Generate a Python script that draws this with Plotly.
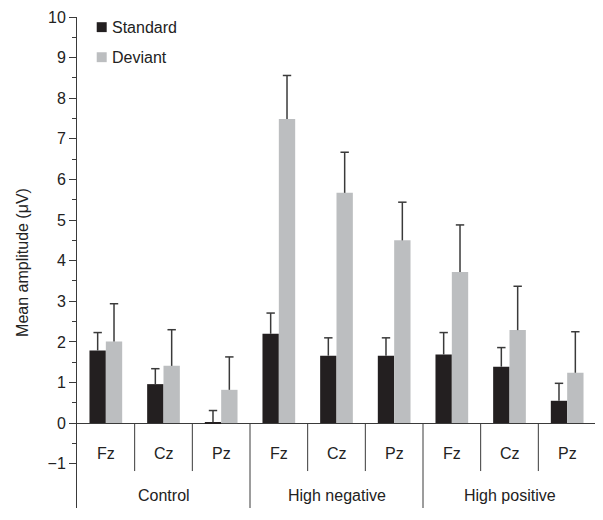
import plotly.graph_objects as go

groups = ["Control", "High negative", "High positive"]
sites = ["Fz", "Cz", "Pz"]
series_names = ["Standard", "Deviant"]

standard_mean = [1.79, 0.96, 0.02, 2.20, 1.66, 1.66, 1.69, 1.39, 0.55]
standard_upper = [2.23, 1.34, 0.31, 2.71, 2.10, 2.10, 2.23, 1.86, 0.98]
deviant_mean = [2.01, 1.41, 0.82, 7.49, 5.67, 4.50, 3.72, 2.29, 1.24]
deviant_upper = [2.94, 2.30, 1.63, 8.56, 6.67, 5.44, 4.88, 3.37, 2.25]

y_ticks = [-1, 0, 1, 2, 3, 4, 5, 6, 7, 8, 9, 10]

n_sites = len(sites)
n_cat = len(groups) * n_sites
xpos = list(range(n_cat))

FONT = "Liberation Sans, Arial, Helvetica, sans-serif"
AXC = "#3a3a3a"
ERRC = "#3a3a3a"
TXT = "#222222"
COLORS = ["#231f20", "#bcbec0"]

fig = go.Figure()
for k, (name, mean, col) in enumerate(zip(series_names, [standard_mean, deviant_mean], COLORS)):
    fig.add_trace(go.Bar(
        x=xpos, y=mean, name=name, showlegend=False, offsetgroup=str(k),
        marker=dict(color=col, line=dict(width=0)),
    ))
for k, (name, mean, upper) in enumerate(zip(series_names, [standard_mean, deviant_mean],
                                            [standard_upper, deviant_upper])):
    # one-sided (upper) error bar: stem from mean to upper, cap only at the top
    fig.add_trace(go.Scatter(
        x=xpos, y=upper, mode="markers", showlegend=False, offsetgroup=str(k),
        marker=dict(symbol="line-ew", size=6, line=dict(color=ERRC, width=1.5)),
        error_y=dict(type="data", symmetric=False, array=[0] * n_cat,
                     arrayminus=[u - m for u, m in zip(upper, mean)],
                     color=ERRC, thickness=1.5, width=0),
        hoverinfo="skip",
    ))

y_bottom = -2.09
shapes = []
annotations = []
for i in range(n_cat):
    annotations.append(dict(x=i, y=-0.74, xref="x", yref="y", text=sites[i % n_sites],
                            showarrow=False, font=dict(size=16, color=TXT, family=FONT)))
    b = i + 0.5
    if (i + 1) % n_sites == 0:
        shapes.append(dict(type="line", xref="x", yref="y", x0=b, x1=b, y0=0, y1=y_bottom,
                           line=dict(color=AXC, width=1)))
    else:
        shapes.append(dict(type="line", xref="x", yref="y", x0=b, x1=b, y0=0, y1=-1.18,
                           line=dict(color=AXC, width=1)))
for g, name in enumerate(groups):
    annotations.append(dict(x=g * n_sites + (n_sites - 1) / 2, y=-1.78, xref="x", yref="y",
                            text=name, showarrow=False,
                            font=dict(size=16, color=TXT, family=FONT)))

# manual legend (swatch + label)
legend_rows = [9.75, 9.01]
for name, col, yc in zip(series_names, COLORS, legend_rows):
    shapes.append(dict(type="rect", xref="x", yref="y", x0=-0.158, x1=0.015,
                       y0=yc - 0.122, y1=yc + 0.122, fillcolor=col, line=dict(width=0)))
    annotations.append(dict(x=0.07, y=yc, xref="x", yref="y", text=name, xanchor="left",
                            showarrow=False, font=dict(size=16, color=TXT, family=FONT)))

minor_vals = [v + 0.5 for v in y_ticks[:-1]]

# page body has an 8px margin: shrink the figure so the plot lands where intended
fig.update_layout(
    width=595, height=512,
    margin=dict(l=69, r=7, t=9, b=12, autoexpand=False),
    paper_bgcolor="white", plot_bgcolor="white",
    barmode="group", bargap=0.433, bargroupgap=0,
    scattermode="group", scattergap=0.433,
    font=dict(family=FONT, size=16, color=TXT),
    showlegend=False,
    xaxis=dict(range=[-0.5, n_cat - 0.5], visible=False, fixedrange=True),
    yaxis=dict(range=[y_bottom, 10], tickvals=y_ticks,
               ticktext=[str(v).replace("-", "\u2212") for v in y_ticks],
               ticks="outside", ticklen=7, tickwidth=1, tickcolor=AXC,
               ticklabeloverflow="allow",
               showline=True, linecolor=AXC, linewidth=1, showgrid=False,
               zeroline=True, zerolinecolor=AXC, zerolinewidth=1,
               tickfont=dict(size=16, family=FONT, color=TXT),
               minor=dict(tickvals=minor_vals, ticks="outside", ticklen=4, tickcolor=AXC, showgrid=False),
               title=dict(text="Mean amplitude (\u03bcV)", font=dict(size=16, family=FONT, color=TXT),
                          standoff=14)),
    shapes=shapes,
    annotations=annotations,
)

fig.write_html("out.html")
